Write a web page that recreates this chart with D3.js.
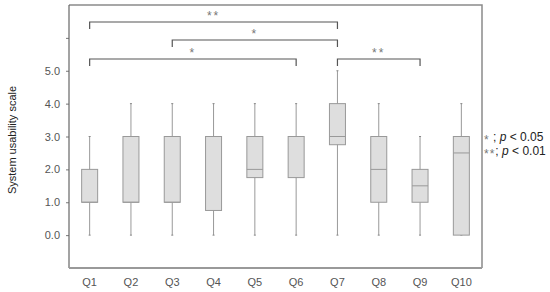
<!DOCTYPE html>
<html>
<head>
    <script src="https://d3js.org/d3.v7.min.js"></script>
    <style>
        body { margin: 0; background: #fff; font-family: Arial, "Liberation Sans", sans-serif; }
    </style>
</head>
<body>
    <svg id="chart" width="550" height="292"></svg>
    <script>
        // Data
        const questions = ['Q1', 'Q2', 'Q3', 'Q4', 'Q5', 'Q6', 'Q7', 'Q8', 'Q9', 'Q10'];
        const minValues = [0, 0, 0, 0, 0, 0, 0, 0, 0, 0];
        const q1Values = [1, 1, 1, 0.75, 1.75, 1.75, 2.75, 1, 1, 0];
        const medianValues = [1, 1, 1, 3, 2, 3, 3, 2, 1.5, 2.5];
        const q3Values = [2, 3, 3, 3, 3, 3, 4, 3, 2, 3];
        const maxValues = [3, 4, 4, 4, 4, 4, 5, 4, 3, 4];
        const yTicks = [0, 1, 2, 3, 4, 5, 6];
        const yTickLabels = ['0.0', '1.0', '2.0', '3.0', '4.0', '5.0', ''];

        // significance brackets: from, to, label, level (0 = top)
        const brackets = [
            { from: 'Q1', to: 'Q7', label: '**', level: 0 },
            { from: 'Q3', to: 'Q7', label: '*', level: 1 },
            { from: 'Q1', to: 'Q6', label: '*', level: 2 },
            { from: 'Q7', to: 'Q9', label: '**', level: 2 }
        ];
        const legendLines = [
            { stars: '*', text: ' ; ', p: 'p', rest: ' < 0.05' },
            { stars: '**', text: '; ', p: 'p', rest: ' < 0.01' }
        ];

        const svg = d3.select('#chart');
        const plotLeft = 69, plotRight = 482, plotTop = 5, plotBottom = 268;

        const x = d3.scaleBand().domain(questions).range([plotLeft, plotRight]).padding(0);
        const y = d3.scaleLinear().domain([-1, 7]).range([plotBottom, plotTop]);
        const boxW = 16;

        // frame (top + right)
        svg.append('path')
            .attr('d', `M ${plotLeft} ${plotTop} H ${plotRight} V ${plotBottom}`)
            .attr('fill', 'none')
            .attr('stroke', '#8a8a8a')
            .attr('stroke-width', 1.5);

        // y axis
        const yAxis = svg.append('g')
            .attr('transform', `translate(${plotLeft},0)`)
            .call(d3.axisLeft(y).tickValues(yTicks).tickSize(3).tickPadding(6)
                .tickFormat((d, i) => yTickLabels[i]));
        yAxis.select('.domain').remove();
        yAxis.selectAll('line').attr('stroke', '#777');
        yAxis.selectAll('text').attr('font-size', 11).attr('fill', '#555')
            .attr('font-family', 'Arial, "Liberation Sans", sans-serif');
        svg.append('line')
            .attr('x1', plotLeft).attr('x2', plotLeft).attr('y1', plotTop).attr('y2', plotBottom)
            .attr('stroke', '#666').attr('stroke-width', 1.2);

        // x axis
        const xAxis = svg.append('g')
            .attr('transform', `translate(0,${plotBottom})`)
            .call(d3.axisBottom(x).tickSize(0).tickPadding(10));
        xAxis.select('.domain').remove();
        xAxis.selectAll('text').attr('font-size', 11).attr('fill', '#555')
            .attr('font-family', 'Arial, "Liberation Sans", sans-serif');
        svg.append('line')
            .attr('x1', plotLeft).attr('x2', plotRight).attr('y1', plotBottom).attr('y2', plotBottom)
            .attr('stroke', '#999').attr('stroke-width', 2);

        // y axis title
        svg.append('text')
            .attr('transform', `translate(16,140) rotate(-90)`)
            .attr('text-anchor', 'middle')
            .attr('font-size', 11)
            .attr('fill', '#222')
            .text('System usability scale');

        // boxes
        const boxes = svg.selectAll('.box')
            .data(questions.map((q, i) => ({
                q, min: minValues[i], q1: q1Values[i], med: medianValues[i],
                q3: q3Values[i], max: maxValues[i]
            })))
            .join('g')
            .attr('class', 'box')
            .attr('transform', d => `translate(${x(d.q) + x.bandwidth() / 2},0)`);

        boxes.append('line')
            .attr('x1', 0).attr('x2', 0)
            .attr('y1', d => y(d.min)).attr('y2', d => y(d.max))
            .attr('stroke', '#999').attr('stroke-width', 1);
        boxes.append('line')
            .attr('x1', -1).attr('x2', 1)
            .attr('y1', d => y(d.max)).attr('y2', d => y(d.max))
            .attr('stroke', '#888');
        boxes.append('line')
            .attr('x1', -1).attr('x2', 1)
            .attr('y1', d => y(d.min)).attr('y2', d => y(d.min))
            .attr('stroke', '#888');
        boxes.append('rect')
            .attr('x', -boxW / 2).attr('width', boxW)
            .attr('y', d => y(d.q3))
            .attr('height', d => Math.max(0, y(d.q1) - y(d.q3)))
            .attr('fill', '#dedede')
            .attr('stroke', '#999')
            .attr('stroke-width', 1);
        boxes.append('line')
            .attr('x1', -boxW / 2).attr('x2', boxW / 2)
            .attr('y1', d => y(d.med)).attr('y2', d => y(d.med))
            .attr('stroke', '#999').attr('stroke-width', 1);

        // significance brackets
        const levelY = [22, 40, 59];
        const bg = svg.append('g');
        brackets.forEach(b => {
            const x1 = x(b.from) + x.bandwidth() / 2;
            const x2 = x(b.to) + x.bandwidth() / 2;
            const yy = levelY[b.level];
            bg.append('path')
                .attr('d', `M ${x1} ${yy + 7} V ${yy} H ${x2} V ${yy + 7}`)
                .attr('fill', 'none')
                .attr('stroke', '#555')
                .attr('stroke-width', 1.2);
            bg.append('text')
                .attr('x', (x1 + x2) / 2)
                .attr('y', yy - 2)
                .attr('text-anchor', 'middle')
                .attr('font-size', 12)
                .attr('letter-spacing', 2)
                .attr('fill', '#777')
                .text(b.label);
        });

        // legend
        legendLines.forEach((l, i) => {
            const t = svg.append('text')
                .attr('x', 484)
                .attr('y', 141 + i * 14)
                .attr('font-size', 12)
                .attr('fill', '#222');
            t.append('tspan').attr('fill', '#777').attr('letter-spacing', 1)
                .attr('dy', 3).text(l.stars);
            t.append('tspan').attr('dy', -3).text(l.text);
            t.append('tspan').attr('font-style', 'italic').text(l.p);
            t.append('tspan').text(l.rest);
        });
    </script>
</body>
</html>
